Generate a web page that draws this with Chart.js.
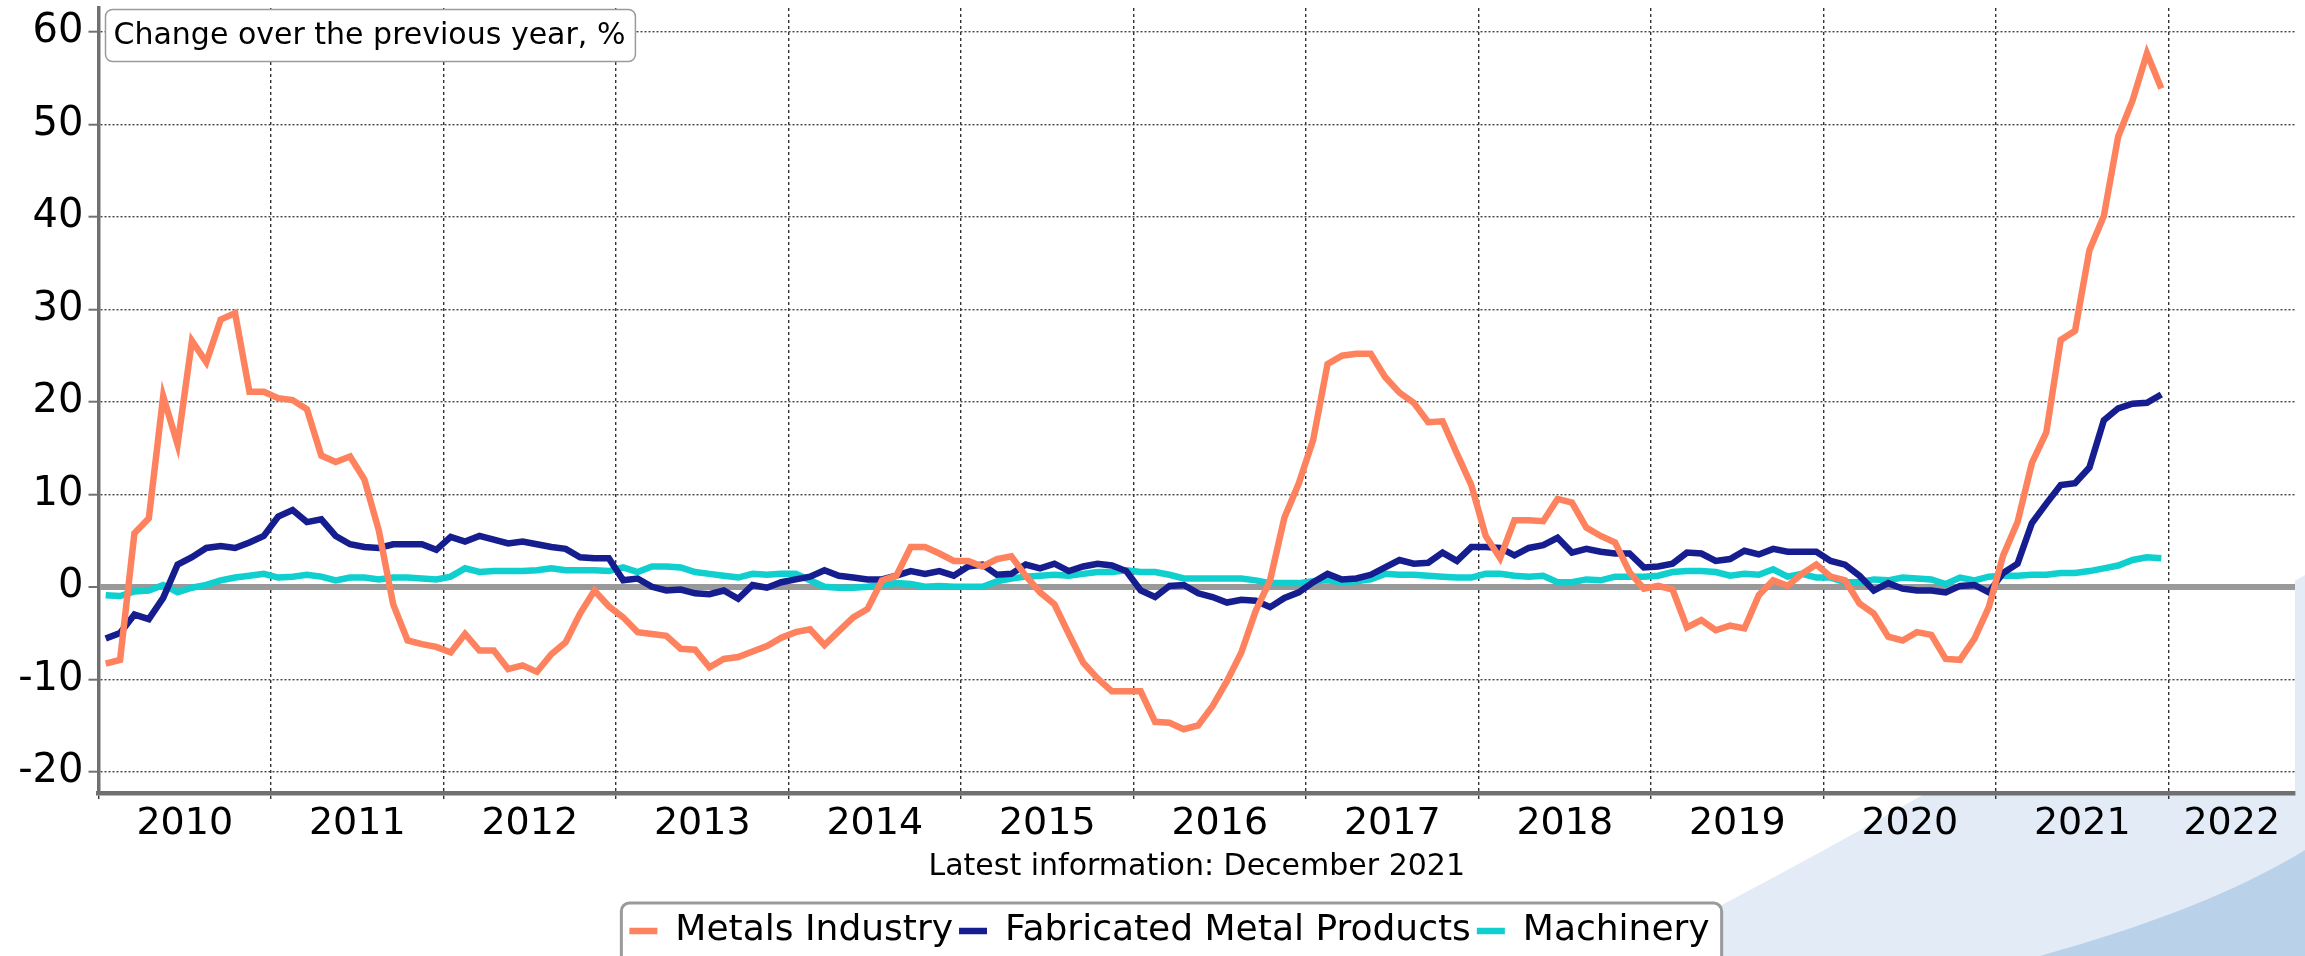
<!DOCTYPE html>
<html>
<head>
<meta charset="utf-8">
<script src="https://cdn.jsdelivr.net/npm/chart.js@4.4.1/dist/chart.umd.min.js"></script>
<style>
  html, body { margin: 0; padding: 0; background: #fff; }
  #wrap { position: relative; width: 2305px; height: 956px; overflow: hidden; }
  #bg, #chart { position: absolute; left: 0; top: 0; }
</style>
</head>
<body>
<div id="wrap">
  <svg id="bg" width="2305" height="956">
    <path d="M 1620 956 C 1820 860, 2060 715, 2305 575 L 2305 956 Z" fill="#e3ebf6"/>
    <path d="M 2040 956 C 2150 925, 2235 893, 2305 850 L 2305 956 Z" fill="#b9d2ea"/>
  </svg>
  <canvas id="chart" width="2305" height="956"></canvas>
</div>
<script>
// year labels on the x axis (one per calendar year, 2022 is the partial last band)
const years = ['2010', '2011', '2012', '2013', '2014', '2015', '2016', '2017', '2018', '2019', '2020', '2021', '2022'];

// monthly values, Jan 2010 - Dec 2021, change over previous year %
const metalsIndustry = [
  -8.3, -7.9, 5.8, 7.4, 20.6, 15.4, 26.6, 24.3, 28.9, 29.6, 21.1, 21.1,
  20.4, 20.2, 19.2, 14.2, 13.5, 14.1, 11.6, 6.1, -1.9, -5.8, -6.2, -6.5,
  -7.1, -5.1, -6.9, -6.9, -8.9, -8.5, -9.2, -7.3, -6.0, -2.9, -0.4, -2.1,
  -3.3, -4.9, -5.1, -5.3, -6.7, -6.8, -8.7, -7.8, -7.6, -7.0, -6.4, -5.5,
  -4.9, -4.6, -6.3, -4.8, -3.3, -2.4, 0.7, 1.2, 4.3, 4.3, 3.6, 2.8,
  2.8, 2.2, 3.0, 3.3, 1.2, -0.6, -1.9, -5.1, -8.2, -9.9, -11.3, -11.3,
  -11.3, -14.6, -14.7, -15.4, -15.0, -12.9, -10.2, -7.1, -2.6, 0.7, 7.5, 11.2,
  15.9, 24.1, 25.0, 25.2, 25.2, 22.7, 21.0, 19.9, 17.8, 17.9, 14.4, 11.0,
  5.5, 3.1, 7.2, 7.2, 7.1, 9.5, 9.1, 6.4, 5.5, 4.8, 1.6, -0.2,
  0.1, -0.3, -4.4, -3.6, -4.7, -4.2, -4.5, -0.9, 0.7, 0.1, 1.4, 2.4,
  1.1, 0.7, -1.8, -2.9, -5.4, -5.8, -4.9, -5.2, -7.8, -7.9, -5.6, -2.2,
  3.4, 7.0, 13.4, 16.7, 26.7, 27.7, 36.4, 40.1, 48.7, 52.6, 57.7, 53.9
];

const fabricatedMetal = [
  -5.6, -5.0, -3.0, -3.5, -1.2, 2.4, 3.2, 4.2, 4.4, 4.2, 4.8, 5.5,
  7.6, 8.3, 7.0, 7.3, 5.5, 4.6, 4.3, 4.2, 4.6, 4.6, 4.6, 4.0,
  5.4, 4.9, 5.5, 5.1, 4.7, 4.9, 4.6, 4.3, 4.1, 3.2, 3.1, 3.1,
  0.7, 0.9, 0.0, -0.4, -0.3, -0.7, -0.8, -0.4, -1.3, 0.2, -0.1, 0.5,
  0.8, 1.1, 1.8, 1.2, 1.0, 0.8, 0.8, 1.2, 1.7, 1.4, 1.7, 1.2,
  2.2, 2.4, 1.3, 1.4, 2.4, 2.0, 2.5, 1.7, 2.2, 2.5, 2.3, 1.7,
  -0.4, -1.1, 0.1, 0.2, -0.7, -1.1, -1.7, -1.4, -1.5, -2.2, -1.2, -0.6,
  0.5, 1.4, 0.8, 0.9, 1.3, 2.1, 2.9, 2.5, 2.6, 3.7, 2.8, 4.3,
  4.3, 4.2, 3.4, 4.2, 4.5, 5.3, 3.7, 4.1, 3.8, 3.6, 3.6, 2.1,
  2.2, 2.5, 3.7, 3.6, 2.8, 3.0, 3.9, 3.5, 4.1, 3.8, 3.8, 3.8,
  2.8, 2.4, 1.2, -0.4, 0.4, -0.2, -0.4, -0.4, -0.6, 0.1, 0.2, -0.6,
  1.5, 2.5, 6.9, 9.0, 11.0, 11.2, 12.9, 18.0, 19.3, 19.8, 19.9, 20.8
];

const machinery = [
  -0.9, -1.0, -0.5, -0.4, 0.2, -0.6, -0.1, 0.2, 0.7, 1.0, 1.2, 1.4,
  1.0, 1.1, 1.3, 1.1, 0.7, 1.0, 1.0, 0.8, 1.0, 1.0, 0.9, 0.8,
  1.1, 2.0, 1.6, 1.7, 1.7, 1.7, 1.8, 2.0, 1.8, 1.8, 1.8, 1.7,
  2.1, 1.6, 2.2, 2.2, 2.1, 1.6, 1.4, 1.2, 1.0, 1.4, 1.3, 1.4,
  1.4, 0.7, 0.0, -0.1, -0.1, 0.0, 0.2, 0.4, 0.3, 0.0, 0.1, 0.0,
  0.0, 0.0, 0.6, 0.9, 1.1, 1.2, 1.3, 1.2, 1.4, 1.6, 1.6, 1.8,
  1.6, 1.6, 1.3, 0.9, 0.9, 0.9, 0.9, 0.9, 0.7, 0.4, 0.4, 0.4,
  0.6, 0.7, 0.5, 0.6, 0.8, 1.4, 1.3, 1.3, 1.2, 1.1, 1.0, 1.0,
  1.4, 1.4, 1.2, 1.1, 1.2, 0.5, 0.5, 0.8, 0.7, 1.1, 1.1, 1.1,
  1.2, 1.6, 1.7, 1.7, 1.6, 1.2, 1.4, 1.3, 1.9, 1.1, 1.4, 1.0,
  1.0, 0.5, 0.5, 0.8, 0.7, 1.0, 0.9, 0.8, 0.3, 1.0, 0.7, 1.1,
  1.2, 1.2, 1.3, 1.3, 1.5, 1.5, 1.7, 2.0, 2.3, 2.9, 3.2, 3.1
];

const seriesNames = ['Metals Industry', 'Fabricated Metal Products', 'Machinery'];
const seriesColors = ['#ff825f', '#161d8f', '#0fcfcf'];

const X_MAX = 152.8; // months shown from Jan 2010 (axis runs a bit into 2022)
const FONT = 'DejaVu Sans';

// points sit in the middle of each month
const toPoints = arr => arr.map((v, i) => ({ x: i + 0.5, y: v }));

// year boundaries get grid lines, year middles get the labels
const xTicks = [];
years.forEach((y, i) => {
  xTicks.push({ value: i * 12 });
  const mid = i < years.length - 1 ? i * 12 + 6 : (i * 12 + X_MAX) / 2;
  xTicks.push({ value: mid, label: y });
});

const boxes = {
  id: 'boxes',
  afterLayout(chart) {
    // legend sits a little right of the canvas centre
    chart.legend.left += 22;
    chart.legend.right += 22;
  },
  beforeDraw(chart) {
    const ctx = chart.ctx;
    const a = chart.chartArea;
    ctx.save();
    ctx.fillStyle = '#fff';
    ctx.fillRect(a.left, a.top, a.right - a.left, a.bottom - a.top);

    // frame round the legend
    const hb = chart.legend.legendHitBoxes;
    if (hb && hb.length) {
      const first = hb[0], last = hb[hb.length - 1];
      const x0 = first.left - 8, x1 = last.left + last.width + 12;
      const y0 = first.top + first.height / 2 - 28;
      ctx.beginPath();
      ctx.roundRect(x0, y0, x1 - x0, 80, 8);
      ctx.fillStyle = '#fff';
      ctx.fill();
      ctx.lineWidth = 3;
      ctx.strokeStyle = '#9a9a9a';
      ctx.stroke();
    }
    ctx.restore();
  },
  afterDraw(chart) {
    const ctx = chart.ctx;
    const a = chart.chartArea;
    ctx.save();
    ctx.font = '30px "' + FONT + '"';
    const txt = 'Change over the previous year, %';
    const w = ctx.measureText(txt).width;
    ctx.beginPath();
    ctx.roundRect(a.left + 7, a.top + 1.5, w + 18, 52, 7);
    ctx.fillStyle = '#fff';
    ctx.fill();
    ctx.lineWidth = 1.5;
    ctx.strokeStyle = '#9a9a9a';
    ctx.stroke();
    ctx.fillStyle = '#000';
    ctx.textBaseline = 'middle';
    ctx.fillText(txt, a.left + 15, a.top + 28);
    ctx.restore();
  }
};

const mkSet = i => ({
  label: seriesNames[i],
  data: toPoints([metalsIndustry, fabricatedMetal, machinery][i]),
  borderColor: seriesColors[i],
  backgroundColor: seriesColors[i],
  borderWidth: 6.5,
  pointRadius: 0,
  tension: 0,
  fill: false
});

new Chart(document.getElementById('chart'), {
  type: 'line',
  data: { datasets: [mkSet(0), mkSet(1), mkSet(2)] },
  options: {
    responsive: false,
    animation: false,
    events: [],
    layout: { padding: { left: 0, right: 10, top: 8, bottom: -3 } },
    scales: {
      x: {
        type: 'linear',
        min: 0,
        max: X_MAX,
        afterBuildTicks: scale => { scale.ticks = xTicks.map(t => ({ value: t.value })); },
        afterFit: scale => {
          scale.height = 114;
          scale.paddingLeft = 0;
          scale.paddingRight = 0;
        },
        ticks: {
          autoSkip: false,
          maxRotation: 0,
          padding: 2,
          color: '#000',
          font: { family: FONT, size: 38 },
          callback: value => {
            const t = xTicks.find(k => Math.abs(k.value - value) < 1e-6);
            return t && t.label ? t.label : '';
          }
        },
        grid: {
          color: c => (c.tick && c.tick.value % 12 === 0) ? '#333' : 'rgba(0,0,0,0)',
          tickColor: c => (c.tick && c.tick.value % 12 === 0) ? '#333' : 'rgba(0,0,0,0)',
          lineWidth: 1.4,
          tickLength: 6
        },
        border: {
          display: true,
          color: '#707070',
          width: 4.5,
          dash: c => c.type === 'tick' ? [3, 3] : []
        },
        title: {
          display: true,
          text: 'Latest information: December 2021',
          color: '#000',
          font: { family: FONT, size: 30 },
          padding: { top: 0, bottom: 22 }
        }
      },
      y: {
        min: -22.3,
        max: 62.6,
        afterFit: scale => {
          scale.width = 98.5;
          scale.paddingTop = 0;
          scale.paddingBottom = 0;
        },
        ticks: {
          stepSize: 10,
          includeBounds: false,
          padding: 5,
          color: '#000',
          font: { family: FONT, size: 40 }
        },
        grid: {
          color: c => (c.tick && c.tick.value === 0) ? '#999999' : '#444',
          lineWidth: c => (c.tick && c.tick.value === 0) ? 6 : 1.4,
          tickColor: '#707070',
          tickWidth: 2,
          tickLength: 10
        },
        border: {
          display: true,
          color: '#707070',
          width: 3.5,
          dash: c => (c.type === 'tick' && c.tick.value !== 0) ? [2, 2] : []
        }
      }
    },
    plugins: {
      legend: {
        position: 'bottom',
        labels: {
          usePointStyle: true,
          pointStyle: 'line',
          pointStyleWidth: 28,
          padding: 6,
          color: '#000',
          font: { family: FONT, size: 36 }
        }
      },
      tooltip: { enabled: false }
    }
  },
  plugins: [boxes]
});
</script>
</body>
</html>
